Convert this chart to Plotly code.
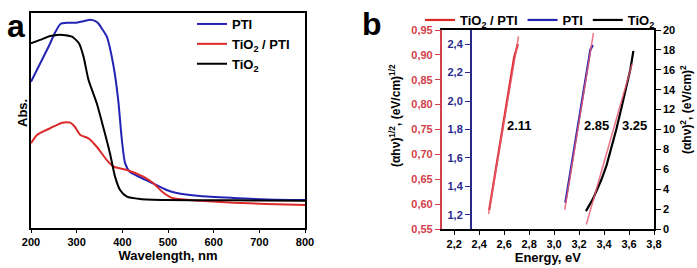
import plotly.graph_objects as go

# ---------------- Panel a data ----------------
pti_wl = [200, 220, 240, 253, 265, 280, 300, 315, 330, 340, 348, 356, 366, 381, 391, 399, 406, 417, 440, 461, 497, 519, 570, 643, 716, 800]
pti_abs = [0.680, 0.765, 0.850, 0.910, 0.950, 0.955, 0.955, 0.962, 0.969, 0.963, 0.950, 0.925, 0.890, 0.750, 0.595, 0.409, 0.302, 0.260, 0.235, 0.214, 0.177, 0.163, 0.149, 0.140, 0.133, 0.130]

tio2_wl = [200, 220, 242, 257, 275, 290, 305, 315, 326, 344, 358, 373, 384, 395, 410, 439, 497, 600, 700, 800]
tio2_abs = [0.859, 0.875, 0.893, 0.898, 0.897, 0.890, 0.859, 0.797, 0.688, 0.580, 0.471, 0.347, 0.239, 0.177, 0.146, 0.135, 0.130, 0.129, 0.128, 0.127]

mix_wl = [200, 213, 242, 268, 286, 296, 308, 326, 344, 366, 381, 410, 446, 468, 490, 512, 570, 643, 716, 800]
mix_abs = [0.394, 0.433, 0.464, 0.490, 0.490, 0.471, 0.433, 0.417, 0.378, 0.316, 0.285, 0.270, 0.239, 0.208, 0.164, 0.138, 0.127, 0.118, 0.112, 0.107]

# ---------------- Panel b data ----------------
mixb_E = [2.48, 2.52, 2.56, 2.60, 2.64, 2.68, 2.71]
mixb_v = [0.588, 0.650, 0.712, 0.774, 0.836, 0.895, 0.922]
mixb_fit_E = [2.475, 2.715]
mixb_fit_v = [0.580, 0.937]

ptib_E = [3.09, 3.13, 3.17, 3.21, 3.25, 3.29, 3.31]
ptib_v = [1.285, 1.50, 1.72, 1.93, 2.15, 2.36, 2.395]
ptib_fit_E = [3.085, 3.315]
ptib_fit_v = [1.235, 2.478]

tio2b_E = [3.255, 3.28, 3.31, 3.34, 3.38, 3.42, 3.46, 3.50, 3.54, 3.58, 3.61, 3.635]
tio2b_v = [1.8, 2.3, 3.0, 3.85, 5.0, 6.4, 8.2, 10.1, 12.2, 14.3, 16.0, 17.9]
tio2b_fit_E = [3.258, 3.625]
tio2b_fit_v = [0.45, 16.6]

gap_labels = ["2.11", "2.85", "3.25"]
gap_x = [2.72, 3.34, 3.64]
gap_y = [10.45, 10.45, 10.45]

BLUE = "#2323b4"
RED = "#dc2a2a"
FIT = "rgba(232,90,110,0.85)"
AXRED = "#d2404a"
AXBLUE = "#2a2a8c"
FONT = "Liberation Sans"

fig = go.Figure()

# Panel a
fig.add_trace(go.Scatter(x=pti_wl, y=pti_abs, mode="lines", line=dict(color=BLUE, width=2, shape="spline", smoothing=0.6),
                         name="PTI", legend="legend", xaxis="x", yaxis="y"))
fig.add_trace(go.Scatter(x=mix_wl, y=mix_abs, mode="lines", line=dict(color=RED, width=2, shape="spline", smoothing=0.6),
                         name="TiO<sub>2</sub> / PTI", legend="legend", xaxis="x", yaxis="y"))
fig.add_trace(go.Scatter(x=tio2_wl, y=tio2_abs, mode="lines", line=dict(color="black", width=2, shape="spline", smoothing=0.6),
                         name="TiO<sub>2</sub>", legend="legend", xaxis="x", yaxis="y"))

# Panel b
fig.add_trace(go.Scatter(x=mixb_E, y=mixb_v, mode="lines", line=dict(color=RED, width=2.2),
                         name="TiO<sub>2</sub> / PTI", legend="legend2", xaxis="x2", yaxis="y2"))
fig.add_trace(go.Scatter(x=mixb_fit_E, y=mixb_fit_v, mode="lines", line=dict(color=FIT, width=1.5),
                         showlegend=False, xaxis="x2", yaxis="y2"))
fig.add_trace(go.Scatter(x=ptib_E, y=ptib_v, mode="lines", line=dict(color=BLUE, width=2.2),
                         name="PTI", legend="legend2", xaxis="x2", yaxis="y3"))
fig.add_trace(go.Scatter(x=ptib_fit_E, y=ptib_fit_v, mode="lines", line=dict(color=FIT, width=1.5),
                         showlegend=False, xaxis="x2", yaxis="y3"))
fig.add_trace(go.Scatter(x=tio2b_E, y=tio2b_v, mode="lines", line=dict(color="black", width=2.2),
                         name="TiO<sub>2</sub>", legend="legend2", xaxis="x2", yaxis="y4"))
fig.add_trace(go.Scatter(x=tio2b_fit_E, y=tio2b_fit_v, mode="lines", line=dict(color=FIT, width=1.5),
                         showlegend=False, xaxis="x2", yaxis="y4"))

W, H = 697, 268
def px(v):
    return v / W
def py(v):
    return (H - v) / H

fig.update_layout(
    width=W, height=H,
    margin=dict(l=0, r=0, t=0, b=0),
    paper_bgcolor="white", plot_bgcolor="white",
    separators=",.",
    font=dict(family=FONT, size=11, color="black"),
    xaxis=dict(domain=[px(31), px(305)], range=[200, 800], tickvals=[200, 300, 400, 500, 600, 700, 800],
               showline=True, linecolor="black", linewidth=1.5, mirror=True, ticks="outside", ticklen=3,
               tickcolor="black", showgrid=False, zeroline=False, automargin=False,
               tickfont=dict(family=FONT, size=11, color="black", weight="bold"),
               title=dict(text="Wavelength, nm", font=dict(family=FONT, size=13, weight="bold"), standoff=2)),
    yaxis=dict(domain=[py(228), py(13)], range=[0, 1], showline=True, linecolor="black", linewidth=1.5,
               mirror=True, showticklabels=False, ticks="", showgrid=False, zeroline=False, automargin=False,
               anchor="x"),
    xaxis2=dict(domain=[px(441.7), px(654)], range=[2.1, 3.8], tick0=2.2, dtick=0.2, tickformat=".1f",
                showline=True, linecolor="black", linewidth=1.5, mirror=True, ticks="outside", ticklen=4,
                tickcolor="black", showgrid=False, zeroline=False, automargin=False, anchor="y2",
                tickfont=dict(family=FONT, size=11, color="black", weight="bold"),
                title=dict(text="Energy, eV", font=dict(family=FONT, size=13, weight="bold"), standoff=2)),
    yaxis2=dict(domain=[py(229), py(30)], range=[0.55, 0.95], tick0=0.55, dtick=0.05, tickformat=".2f",
                showline=True, linecolor=AXRED, linewidth=1.5, ticks="outside", ticklen=5, tickcolor=AXRED,
                showgrid=False, zeroline=False, automargin=False, anchor="x2", side="left",
                tickfont=dict(family=FONT, size=11, color=AXRED, weight="bold")),
    yaxis3=dict(range=[1.1, 2.5], tick0=1.2, dtick=0.2, tickformat=".1f", overlaying="y2",
                anchor="free", position=px(470.7), side="left",
                showline=True, linecolor=AXBLUE, linewidth=1.5, ticks="outside", ticklen=5, tickcolor=AXBLUE,
                showgrid=False, zeroline=False, automargin=False,
                tickfont=dict(family=FONT, size=11, color=AXBLUE, weight="bold")),
    yaxis4=dict(range=[0, 20], tick0=0, dtick=2, overlaying="y2", anchor="x2", side="right",
                showline=True, linecolor="black", linewidth=1.5, ticks="outside", ticklen=5, tickcolor="black",
                showgrid=False, zeroline=False, automargin=False,
                tickfont=dict(family=FONT, size=11, color="black", weight="bold")),
    legend=dict(x=px(192), y=py(9), xanchor="left", yanchor="top", bgcolor="rgba(0,0,0,0)",
                font=dict(family=FONT, size=13, color="black", weight="bold"), tracegroupgap=0,
                itemwidth=30),
    legend2=dict(x=px(420), y=py(20), xanchor="left", yanchor="middle", orientation="h",
                 bgcolor="rgba(0,0,0,0)", font=dict(family=FONT, size=13, color="black", weight="bold"),
                 itemwidth=30),
    showlegend=True,
)

fig.add_annotation(text="Abs.", x=px(22), y=py(113), xref="paper", yref="paper", textangle=-90,
                   xanchor="center", yanchor="middle",
                   showarrow=False, font=dict(family=FONT, size=13, weight="bold"))
fig.add_annotation(text="(\u03b1h\u03bd)<sup>1/2</sup>, (eV/cm)<sup>1/2</sup>", x=px(395), y=py(116),
                   xref="paper", yref="paper", textangle=-90, xanchor="center", yanchor="middle",
                   showarrow=False, font=dict(family=FONT, size=12, color="black", weight="bold"))
fig.add_annotation(text="(\u03b1h\u03bd)<sup>2</sup>, (eV/cm)<sup>2</sup>", x=px(686), y=py(110),
                   xref="paper", yref="paper", textangle=-90, xanchor="center", yanchor="middle",
                   showarrow=False, font=dict(family=FONT, size=12, color="black", weight="bold"))
fig.add_annotation(text="a", x=px(16), y=py(26), xref="paper", yref="paper", showarrow=False,
                   xanchor="center", yanchor="middle",
                   font=dict(family=FONT, size=32, weight="bold"))
fig.add_annotation(text="b", x=px(372), y=py(24), xref="paper", yref="paper", showarrow=False,
                   xanchor="center", yanchor="middle",
                   font=dict(family=FONT, size=32, weight="bold"))
for t, gx, gy in zip(gap_labels, gap_x, gap_y):
    fig.add_annotation(text=t, x=gx, y=gy, xref="x2", yref="y4", showarrow=False,
                       xanchor="center", yanchor="middle",
                       font=dict(family=FONT, size=13, weight="bold"))

fig.write_html("out.html", config={"displayModeBar": False},
               post_script="document.body.style.margin='0';document.body.style.padding='0';")
